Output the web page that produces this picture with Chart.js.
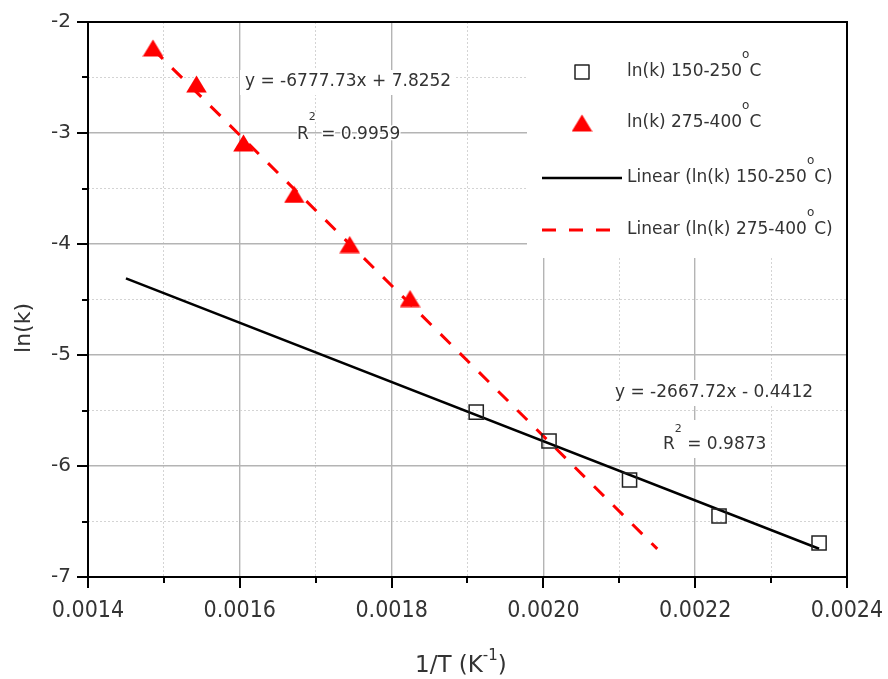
<!DOCTYPE html>
<html>
<head>
<meta charset="utf-8">
<title>ln(k) vs 1/T</title>
<script src="https://cdn.jsdelivr.net/npm/chart.js@4.4.1/dist/chart.umd.min.js"></script>
<style>
  html, body { margin: 0; padding: 0; background: #fff; }
  canvas { display: block; }
</style>
</head>
<body>
<canvas id="chartArrhenius" width="888" height="679"></canvas>
<script>
// ── DATOS ────────────────────────────────────────────────────────
// 1/T (K^-1) y ln(k) para cada rango de temperatura
const invTLow   = [0.0019115, 0.0020074, 0.0021135, 0.0022314, 0.0023632]
const lnkLow    = [-5.514, -5.775, -6.126, -6.450, -6.694]
const invTHigh  = [0.0014856, 0.0015429, 0.0016048, 0.0016718, 0.0017448, 0.0018243]
const lnkHigh   = [-2.234, -2.559, -3.090, -3.554, -4.005, -4.491]

// Ajustes lineales: [pendiente, intercepto], rango en x y R²
const fitLowCoef   = [-2667.72, -0.4412]
const fitLowRange  = [0.00145, 0.0023632]
const fitHighCoef  = [-6777.73, 7.8252]
const fitHighRange = [0.0014856, 0.00215]
const r2Values     = [0.9873, 0.9959]

const seriesNames = ['ln(k) 150-250', 'ln(k) 275-400']
const xTicks = [0.0014, 0.0016, 0.0018, 0.0020, 0.0022, 0.0024]
const yTicks = [-7, -6, -5, -4, -3, -2]

const FONT = '"DejaVu Sans", sans-serif'
const TEXT = '#333333'
const RED  = '#ff0000'

const isMajorX = v => xTicks.some(t => Math.abs(t - v) < 1e-9)
const isMajorY = v => yTicks.some(t => Math.abs(t - v) < 1e-9)

const fitPoints = (coef, range) => range.map(x => ({ x, y: coef[0] * x + coef[1] }))
const eqText = coef => `y = ${coef[0].toFixed(2)}x ${coef[1] < 0 ? '-' : '+'} ${Math.abs(coef[1]).toFixed(4)}`

// sin relleno extra de las etiquetas: el área del gráfico queda fija
const noLabelPadding = s => {
    s.paddingLeft = 0
    s.paddingRight = 0
    s.paddingTop = 0
    s.paddingBottom = 0
}

// marcador triangular centrado en su caja
const triangleMarker = document.createElement('canvas')
triangleMarker.width = 21
triangleMarker.height = 18
;(() => {
    const c = triangleMarker.getContext('2d')
    c.fillStyle = RED
    c.beginPath()
    c.moveTo(10.5, 0.5)
    c.lineTo(20.8, 17.6)
    c.lineTo(0.2, 17.6)
    c.closePath()
    c.fill()
})()

// ── TEXTO CON SUPERÍNDICES ───────────────────────────────────────
// parts: [texto, tamaño, desplazamiento vertical]
function richText(ctx, parts, x, y, halo) {
    let cx = x
    ctx.textAlign = 'left'
    ctx.textBaseline = 'middle'
    parts.forEach(([t, size, dy]) => {
        ctx.font = `${size}px ${FONT}`
        if (halo) {
            ctx.strokeStyle = '#fff'
            ctx.lineWidth = 3
            ctx.lineJoin = 'round'
            ctx.strokeText(t, cx, y - (dy || 0))
        }
        ctx.fillText(t, cx, y - (dy || 0))
        cx += ctx.measureText(t).width
    })
    return cx
}

// ── PLUGIN: cajas blancas, marco, marcas de ejes, leyenda y textos ──
const decorPlugin = {
    id: 'decor',
    beforeDatasetsDraw(chart) {
        const ctx = chart.ctx
        ctx.save()
        ctx.fillStyle = '#fff'
        ctx.fillRect(527, 23, 320, 235)   // leyenda
        ctx.fillRect(240, 70, 214, 25)    // ecuación serie alta
        ctx.fillRect(610, 380, 208, 26)   // ecuación serie baja
        ctx.fillRect(656, 420, 114, 38)   // R² serie baja
        ctx.restore()
    },
    afterDraw(chart) {
        const ctx = chart.ctx
        const { left, right, top, bottom } = chart.chartArea
        const xs = chart.scales.x
        const ys = chart.scales.y
        ctx.save()

        // marco
        ctx.strokeStyle = '#000'
        ctx.lineWidth = 2
        ctx.strokeRect(left, top, right - left, bottom - top)

        // marcas mayores y menores
        ctx.lineWidth = 2
        ctx.beginPath()
        xs.ticks.forEach(t => {
            const px = Math.round(xs.getPixelForValue(t.value))
            const len = isMajorX(t.value) ? 11 : 6
            ctx.moveTo(px, bottom)
            ctx.lineTo(px, bottom + len)
        })
        ys.ticks.forEach(t => {
            const py = Math.round(ys.getPixelForValue(t.value))
            const len = isMajorY(t.value) ? 11 : 6
            ctx.moveTo(left, py)
            ctx.lineTo(left - len, py)
        })
        ctx.stroke()

        // títulos de ejes
        ctx.fillStyle = TEXT
        ctx.save()
        ctx.translate(24, 328)
        ctx.rotate(-Math.PI / 2)
        ctx.font = `22px ${FONT}`
        ctx.textAlign = 'center'
        ctx.textBaseline = 'middle'
        ctx.fillText('ln(k)', 0, 0)
        ctx.restore()
        richText(ctx, [['1/T (K', 23], ['-1', 15, 10], [')', 23]], 415, 666)

        // ecuaciones de ajuste
        richText(ctx, [[eqText(fitHighCoef), 17]], 245, 82, true)
        richText(ctx, [['R', 17], ['2', 11, 18], [' = ' + r2Values[1].toFixed(4), 17]], 297, 135, true)
        richText(ctx, [[eqText(fitLowCoef), 17]], 615, 393, true)
        richText(ctx, [['R', 17], ['2', 11, 16], [' = ' + r2Values[0].toFixed(4), 17]], 663, 445, true)

        // leyenda
        const lx = 627
        const rows = [72, 123, 178, 230]
        ctx.strokeStyle = '#222'
        ctx.lineWidth = 1.5
        ctx.strokeRect(575, rows[0] - 7, 14, 14)
        ctx.drawImage(triangleMarker, 582 - 10.5, rows[1] - 9)
        ctx.strokeStyle = '#000'
        ctx.lineWidth = 2.5
        ctx.beginPath()
        ctx.moveTo(542, rows[2])
        ctx.lineTo(622, rows[2])
        ctx.stroke()
        ctx.strokeStyle = RED
        ctx.lineWidth = 3
        ctx.setLineDash([14, 13])
        ctx.beginPath()
        ctx.moveTo(542, rows[3])
        ctx.lineTo(612, rows[3])
        ctx.stroke()
        ctx.setLineDash([])

        ctx.fillStyle = TEXT
        const deg = [['o', 12, 17], ['C', 17]]
        richText(ctx, [[seriesNames[0], 17], ...deg], lx, rows[0])
        richText(ctx, [[seriesNames[1], 17], ...deg], lx, rows[1])
        richText(ctx, [['Linear (' + seriesNames[0], 17], ...deg, [')', 17]], lx, rows[2])
        richText(ctx, [['Linear (' + seriesNames[1], 17], ...deg, [')', 17]], lx, rows[3])

        ctx.restore()
    }
}

// ── GRÁFICO ──────────────────────────────────────────────────────
new Chart(document.getElementById('chartArrhenius').getContext('2d'), {
    type: 'scatter',
    data: {
        datasets: [
            {
                label: seriesNames[0],
                data: invTLow.map((x, i) => ({ x, y: lnkLow[i] })),
                pointStyle: 'rect', pointRadius: 10, pointHoverRadius: 10,
                borderColor: '#222', borderWidth: 1.5, backgroundColor: 'rgba(0,0,0,0)'
            },
            {
                label: seriesNames[1],
                data: invTHigh.map((x, i) => ({ x, y: lnkHigh[i] })),
                pointStyle: triangleMarker, pointRadius: 10,
                borderWidth: 0, backgroundColor: RED
            },
            {
                label: 'Linear (' + seriesNames[0] + ')',
                data: fitPoints(fitLowCoef, fitLowRange),
                showLine: true, pointRadius: 0, borderColor: '#000', borderWidth: 2.5
            },
            {
                label: 'Linear (' + seriesNames[1] + ')',
                data: fitPoints(fitHighCoef, fitHighRange),
                showLine: true, pointRadius: 0, borderColor: RED, borderWidth: 3,
                borderDash: [14, 13]
            }
        ]
    },
    options: {
        responsive: false,
        animation: false,
        devicePixelRatio: 1,
        layout: { padding: { top: 22, right: 41, left: 0, bottom: 0 } },
        plugins: { legend: { display: false }, tooltip: { enabled: false } },
        scales: {
            x: {
                type: 'linear', min: 0.0014, max: 0.0024,
                afterFit: s => { s.height = 102; noLabelPadding(s) },
                grid: {
                    drawTicks: false,
                    color: c => isMajorX(c.tick.value) ? '#b4b4b4' : '#d4d4d4',
                    lineWidth: c => isMajorX(c.tick.value) ? 1.4 : 1
                },
                border: { display: false, dash: c => (c.tick && isMajorX(c.tick.value)) ? [] : [2, 2] },
                ticks: {
                    stepSize: 0.0001, autoSkip: false, maxRotation: 0, padding: 20,
                    color: TEXT,
                    font: { family: '"DejaVu Sans Condensed", "DejaVu Sans", sans-serif', size: 23 },
                    callback: v => isMajorX(v) ? v.toFixed(4) : ''
                }
            },
            y: {
                type: 'linear', min: -7, max: -2,
                afterFit: s => { s.width = 88; noLabelPadding(s) },
                grid: {
                    drawTicks: false,
                    color: c => isMajorY(c.tick.value) ? '#b4b4b4' : '#d4d4d4',
                    lineWidth: c => isMajorY(c.tick.value) ? 1.4 : 1
                },
                border: { display: false, dash: c => (c.tick && isMajorY(c.tick.value)) ? [] : [2, 2] },
                ticks: {
                    stepSize: 0.5, autoSkip: false, padding: 17,
                    color: TEXT,
                    font: { family: FONT, size: 20 },
                    callback: v => isMajorY(v) ? String(v) : ''
                }
            }
        }
    },
    plugins: [decorPlugin]
})
</script>
</body>
</html>
